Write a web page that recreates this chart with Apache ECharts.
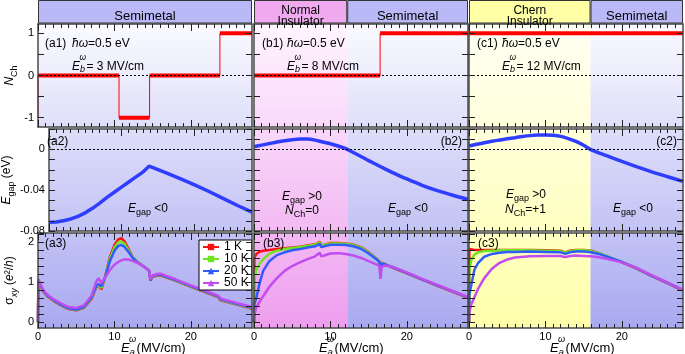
<!DOCTYPE html>
<html>
<head>
<meta charset="utf-8">
<script src="https://cdn.jsdelivr.net/npm/echarts@6/dist/echarts.min.js"></script>
<style>
html, body { margin: 0; padding: 0; background: #fff; }
#chart { width: 685px; height: 354px; }
</style>
</head>
<body>
<div id="chart"></div>
<script>
// ---- data ----
var xMax = 28;
var xMajorTicks = [0, 10, 20];
var xMinorTicks = [1, 2, 3, 4, 5, 6, 7, 8, 9, 11, 12, 13, 14, 15, 16, 17, 18, 19, 21, 22, 23, 24, 25, 26, 27];
var xTickLabels = [0, 10, 20];

var nchTicks = [-1, -0.5, 0, 0.5, 1];
var nchLabels = [-1, 0, 1];
var gapTicks = [-0.08, -0.07, -0.06, -0.05, -0.04, -0.03, -0.02, -0.01, 0, 0.01, 0.02];
var gapLabels = [-0.08, -0.04, 0];
var sigTicks = [0, 0.2, 0.4, 0.6, 0.8, 1, 1.2, 1.4, 1.6, 1.8, 2, 2.2];
var sigLabels = [0, 1, 2];

// Chern number: value held from x[i] to x[i+1]
var nchAx = [0, 0, 10.6, 14.6, 23.8, 28];
var nchAv = [-1, 0, -1, 0, 1, 1];
var nchBx = [0, 16.5, 28];
var nchBv = [0, 1, 1];
var nchCx = [0, 28];
var nchCv = [1, 1];

// phase boundaries (MV/cm)
var insulatorEndB = 12.2;
var insulatorEndC = 15.9;

// gap (eV)
var gapAx = [0, 1, 2, 3, 4, 5, 6, 7, 8, 9, 10, 11, 12, 13, 13.8, 16, 18, 20, 22, 24, 26, 28];
var gapA = [-0.0715, -0.0711, -0.0700, -0.0682, -0.0657, -0.0622, -0.0578, -0.0527, -0.047, -0.042, -0.037, -0.032, -0.027, -0.022, -0.0165, -0.0225, -0.0285, -0.0345, -0.041, -0.048, -0.055, -0.0615];
var gapBx = [0, 1, 2, 3, 4, 5, 6, 7, 8, 9, 10, 11, 12, 13, 14, 15, 16, 17, 18, 20, 22, 24, 26, 28];
var gapB = [0.0026, 0.0042, 0.0057, 0.0072, 0.0085, 0.0095, 0.0101, 0.0101, 0.0091, 0.0072, 0.0055, 0.0033, 0.0008, -0.0031, -0.007, -0.011, -0.0148, -0.0186, -0.0222, -0.029, -0.0352, -0.0405, -0.045, -0.049];
var gapCx = [0, 1, 2, 3, 4, 5, 6, 7, 8, 9, 10, 11, 12, 13, 14, 15, 16, 18, 20, 22, 24, 26, 28];
var gapC = [0.0033, 0.005, 0.0066, 0.008, 0.0092, 0.0104, 0.0115, 0.0126, 0.0135, 0.014, 0.0142, 0.0138, 0.0128, 0.0106, 0.0078, 0.0041, -0.0004, -0.0062, -0.0118, -0.0172, -0.0222, -0.0268, -0.0313];

// Hall conductivity (e^2/h) for 1 K, 10 K, 20 K, 50 K
var tempNames = ['1 K', '10 K', '20 K', '50 K'];
var sigAx = [0, 0.05, 0.3, 0.7, 1.2, 2, 3, 4, 5, 6, 7, 7.6, 7.9, 8.3, 8.8, 9.4, 10, 10.5, 10.9, 11.3, 11.8, 12.4, 13, 13.6, 14.2, 14.55, 14.7, 15, 15.6, 16, 18, 20, 22, 23.6, 23.9, 26, 28];
var sigA1 = [0, 1.05, 0.92, 0.76, 0.65, 0.54, 0.42, 0.33, 0.30, 0.36, 0.58, 0.86, 0.92, 0.82, 1.15, 1.62, 1.92, 2.06, 2.09, 2.02, 1.84, 1.62, 1.5, 1.42, 1.34, 1.28, 1.04, 1.13, 1.16, 1.17, 1.03, 0.88, 0.74, 0.62, 0.55, 0.44, 0.34];
var sigA10 = [0, 1.05, 0.93, 0.77, 0.66, 0.55, 0.43, 0.34, 0.31, 0.37, 0.6, 0.88, 0.93, 0.86, 1.15, 1.58, 1.86, 1.99, 2.01, 1.96, 1.8, 1.62, 1.5, 1.42, 1.34, 1.28, 1.05, 1.14, 1.17, 1.18, 1.04, 0.89, 0.75, 0.63, 0.56, 0.45, 0.35];
var sigA20 = [0, 1.05, 0.93, 0.78, 0.67, 0.56, 0.44, 0.35, 0.32, 0.38, 0.62, 0.9, 0.95, 0.9, 1.13, 1.52, 1.78, 1.9, 1.92, 1.88, 1.76, 1.6, 1.49, 1.42, 1.34, 1.28, 1.05, 1.15, 1.18, 1.19, 1.05, 0.9, 0.76, 0.64, 0.57, 0.46, 0.36];
var sigA50 = [0, 1.07, 0.95, 0.8, 0.69, 0.58, 0.47, 0.38, 0.36, 0.42, 0.66, 1.0, 1.1, 0.98, 1.12, 1.3, 1.43, 1.5, 1.54, 1.56, 1.56, 1.53, 1.48, 1.42, 1.34, 1.28, 1.07, 1.17, 1.2, 1.21, 1.07, 0.92, 0.78, 0.66, 0.59, 0.48, 0.38];

var sigBx = [0, 0.05, 0.3, 0.7, 1.2, 2, 3, 4, 5, 6, 7, 8, 8.6, 8.8, 9.2, 10, 11, 12, 13, 14, 15, 16, 16.4, 16.55, 16.7, 17, 18, 20, 22, 24, 26, 28];
var sigB1 = [0, 1.6, 1.7, 1.75, 1.78, 1.8, 1.82, 1.84, 1.86, 1.88, 1.91, 1.94, 2.0, 1.92, 1.93, 1.97, 1.97, 1.96, 1.93, 1.87, 1.74, 1.59, 1.52, 1.3, 1.48, 1.46, 1.37, 1.22, 1.06, 0.91, 0.76, 0.61];
var sigB10 = [0, 1.09, 1.3, 1.45, 1.57, 1.7, 1.78, 1.82, 1.85, 1.87, 1.9, 1.93, 1.99, 1.91, 1.92, 1.96, 1.96, 1.95, 1.92, 1.86, 1.73, 1.58, 1.51, 1.26, 1.47, 1.45, 1.38, 1.23, 1.07, 0.92, 0.77, 0.62];
var sigB20 = [0, 0.45, 0.6, 0.95, 1.28, 1.52, 1.67, 1.74, 1.79, 1.82, 1.86, 1.89, 1.95, 1.87, 1.89, 1.93, 1.93, 1.92, 1.89, 1.83, 1.71, 1.57, 1.5, 1.22, 1.46, 1.45, 1.38, 1.23, 1.07, 0.92, 0.77, 0.62];
var sigB50 = [0, 0.2, 0.38, 0.5, 0.65, 0.88, 1.1, 1.28, 1.4, 1.49, 1.57, 1.64, 1.73, 1.64, 1.66, 1.71, 1.72, 1.7, 1.66, 1.6, 1.52, 1.44, 1.41, 1.08, 1.38, 1.41, 1.39, 1.24, 1.08, 0.93, 0.78, 0.63];

var sigCx = [0, 0.05, 0.3, 0.7, 1.2, 2, 3, 4, 5, 6, 8, 10, 12, 12.6, 13.2, 14, 15, 16, 17, 18, 20, 22, 24, 26, 28];
var sigC1 = [0, 1.82, 1.81, 1.8, 1.8, 1.8, 1.8, 1.8, 1.8, 1.8, 1.8, 1.79, 1.78, 1.74, 1.78, 1.8, 1.8, 1.78, 1.72, 1.64, 1.49, 1.33, 1.14, 0.97, 0.79];
var sigC10 = [0, 1.3, 1.55, 1.68, 1.74, 1.77, 1.78, 1.79, 1.79, 1.79, 1.79, 1.78, 1.77, 1.73, 1.77, 1.79, 1.79, 1.77, 1.72, 1.65, 1.5, 1.34, 1.15, 0.98, 0.8];
var sigC20 = [0, 0.7, 0.93, 1.3, 1.48, 1.63, 1.7, 1.73, 1.75, 1.75, 1.76, 1.75, 1.74, 1.7, 1.74, 1.76, 1.76, 1.74, 1.7, 1.64, 1.5, 1.34, 1.15, 0.98, 0.8];
var sigC50 = [0, 0.25, 0.45, 0.62, 0.84, 1.1, 1.33, 1.48, 1.56, 1.61, 1.64, 1.65, 1.65, 1.62, 1.65, 1.66, 1.65, 1.64, 1.62, 1.58, 1.49, 1.35, 1.16, 0.99, 0.81];

// ---- layout / style ----
var FONT = '"Liberation Sans", Arial, sans-serif';
var colLeft = [38, 254, 469], colWidth = 214;
var rowTop = [24, 129, 233], rowHeight = [103, 102, 95];
var rowRange = [[-1.22, 1.22], [-0.08, 0.02], [-0.14, 2.22]];
var rowTicks = [nchTicks, gapTicks, sigTicks];
var rowLabels = [nchLabels, gapLabels, sigLabels];
var tempColors = ['#ff1010', '#6ce61e', '#2f5bff', '#c24cf0'];
var tempSymbols = ['rect', 'rect', 'triangle', 'triangle'];
var lav = ['#fafaff', '#a9a9f1'], pink = ['#fff5ff', '#ee9eee'], yel = ['#fffff4', '#ffffaa'];

var RICH = {
  i: { fontStyle: 'italic', fontSize: 12, fontFamily: FONT, lineHeight: 18, color: '#000' },
  n: { fontSize: 12, fontFamily: FONT, lineHeight: 18, color: '#000' },
  s: { fontSize: 9, fontFamily: FONT, verticalAlign: 'bottom', lineHeight: 10, color: '#000' },
  si: { fontSize: 9, fontStyle: 'italic', fontFamily: FONT, verticalAlign: 'bottom', lineHeight: 10, color: '#000' }
};

function pairs(xs, ys) {
  return xs.map(function (x, i) { return [x, ys[i]]; });
}
function mix(a, b, t) {
  var pa = parseInt(a.slice(1), 16), pb = parseInt(b.slice(1), 16), out = [];
  for (var s = 16; s >= 0; s -= 8) {
    var ca = (pa >> s) & 255, cb = (pb >> s) & 255;
    out.push(Math.round(ca + (cb - ca) * t));
  }
  return 'rgb(' + out.join(',') + ')';
}
var zoneTop = rowTop[0], zoneBottom = rowTop[2] + rowHeight[2];
function rowGrad(pal, r) {
  var t0 = (rowTop[r] - zoneTop) / (zoneBottom - zoneTop);
  var t1 = (rowTop[r] + rowHeight[r] - zoneTop) / (zoneBottom - zoneTop);
  return { type: 'linear', x: 0, y: 0, x2: 0, y2: 1,
    colorStops: [{ offset: 0, color: mix(pal[0], pal[1], t0) }, { offset: 1, color: mix(pal[0], pal[1], t1) }] };
}
var zones = [
  [[0, xMax, lav, ['Semimetal']]],
  [[0, insulatorEndB, pink, ['Normal', 'Insulator']], [insulatorEndB, xMax, lav, ['Semimetal']]],
  [[0, insulatorEndC, yel, ['Chern', 'Insulator']], [insulatorEndC, xMax, lav, ['Semimetal']]]
];
function background(c, r) {
  return { silent: true, data: zones[c].map(function (z) {
    return [{ xAxis: z[0], itemStyle: { color: rowGrad(z[2], r) } }, { xAxis: z[1] }];
  }) };
}
var zeroLine = { silent: true, symbol: ['none', 'none'], label: { show: false },
  lineStyle: { type: [2, 2], color: '#000', width: 1 }, data: [{ yAxis: 0 }] };

var yNames = ['{i|N}{s|Ch}', '{i|E}{s|gap}{n| (eV)}', '{n|σ}{si|xy}{n| (}{i|e}{n|²/}{i|h}{n|)}'];

var nchX = [nchAx, nchBx, nchCx], nchV = [nchAv, nchBv, nchCv];
var gapX = [gapAx, gapBx, gapCx], gapY = [gapA, gapB, gapC];
var sigX = [sigAx, sigBx, sigCx];
var sigY = [[sigA1, sigA10, sigA20, sigA50], [sigB1, sigB10, sigB20, sigB50], [sigC1, sigC10, sigC20, sigC50]];

var grids = [], xAxes = [], yAxes = [], series = [];
for (var r = 0; r < 3; r++) {
  for (var c = 0; c < 3; c++) {
    var g = r * 3 + c;
    grids.push({ left: colLeft[c], top: rowTop[r], width: colWidth, height: rowHeight[r] });
    [['bottom', xMajorTicks, 7, r === 2], ['bottom', xMinorTicks, 4, false],
     ['top', xMajorTicks, 7, false], ['top', xMinorTicks, 4, false]].forEach(function (d, k) {
      xAxes.push({ type: 'value', gridIndex: g, position: d[0], min: 0, max: xMax, z: 5,
        axisLine: { show: k % 2 === 0, onZero: false, lineStyle: { color: '#4a4a4a', width: 1.5 } },
        axisTick: { show: true, inside: true, length: d[2], customValues: d[1], lineStyle: { color: '#222', width: 1 } },
        axisLabel: { show: d[3], customValues: xTickLabels, margin: 3, color: '#000', fontSize: 11, fontFamily: FONT },
        splitLine: { show: false } });
    });
    ['left', 'right'].forEach(function (p, k) {
      var lab = c === 0 && k === 0;
      yAxes.push({ type: 'value', gridIndex: g, position: p, min: rowRange[r][0], max: rowRange[r][1], z: 5,
        axisLine: { show: true, onZero: false, lineStyle: { color: '#4a4a4a', width: 1.5 } },
        axisTick: { show: true, inside: true, length: 6, customValues: rowTicks[r], lineStyle: { color: '#222', width: 1 } },
        axisLabel: { show: lab, customValues: rowLabels[r], margin: 4, color: '#000', fontSize: 11, fontFamily: FONT },
        splitLine: { show: false },
        name: lab ? yNames[r] : '', nameLocation: 'middle', nameGap: 19, nameRotate: 90,
        nameTextStyle: { rich: RICH } });
    });

    var ax = { xAxisIndex: 4 * g, yAxisIndex: 2 * g, symbol: 'none', silent: true };
    if (r === 0) {
      var thick = [], xs = nchX[c], vs = nchV[c];
      for (var i = 0; i < xs.length - 1; i++) {
        if (xs[i + 1] > xs[i]) thick.push([xs[i], vs[i]], [xs[i + 1], vs[i]], [xs[i + 1], '-']);
      }
      series.push(Object.assign({ type: 'line', step: 'end', data: pairs(xs, vs),
        lineStyle: { color: '#ff0000', width: 1 }, markArea: background(c, r), markLine: zeroLine }, ax));
      series.push(Object.assign({ type: 'line', data: thick, connectNulls: false,
        lineStyle: { color: '#ff0000', width: 4, cap: 'butt' } }, ax));
    } else if (r === 1) {
      series.push(Object.assign({ type: 'line', data: pairs(gapX[c], gapY[c]), smooth: c === 0 ? false : 0.3,
        lineStyle: { color: '#2f3dff', width: 3.5 }, markArea: background(c, r), markLine: zeroLine }, ax));
    } else {
      for (var t = 0; t < 4; t++) {
        var s = Object.assign({ type: 'line', name: tempNames[t], data: pairs(sigX[c], sigY[c][t]),
          symbolSize: 5, showSymbol: false, color: tempColors[t],
          lineStyle: { color: tempColors[t], width: 2.5 } }, ax);
        s.symbol = tempSymbols[t];
        if (t === 0) s.markArea = background(c, r);
        series.push(s);
      }
    }
  }
}

var chart = echarts.init(document.getElementById('chart'));
chart.setOption({
  animation: false,
  backgroundColor: '#fff',
  textStyle: { fontFamily: FONT },
  grid: grids, xAxis: xAxes, yAxis: yAxes, series: series,
  legend: { data: tempNames, left: 199, top: 240, orient: 'vertical', backgroundColor: '#fff',
    borderColor: '#000', borderWidth: 1, borderRadius: 0, padding: [1, 3, 1, 3], itemGap: 0,
    itemWidth: 16, itemHeight: 8, textStyle: { fontSize: 12, fontFamily: FONT, color: '#000', lineHeight: 9 } }
});

// ---- text, headers ----
// the renderer puts these texts a few pixels above the asked centre, so push them down
function label(x, y, text, align) {
  return { type: 'text', x: x, y: y + 1.5, z: 50, silent: true,
    style: { text: text, rich: RICH, fill: '#000', font: '12px ' + FONT,
      align: align || 'left', verticalAlign: 'middle', textAlign: align || 'left', textVerticalAlign: 'middle' } };
}
function plain(x, y, text, size, italic, align) {
  return { type: 'text', x: x, y: y + size * 0.36, z: 50, silent: true,
    style: { text: text, fill: '#000', font: (italic ? 'italic ' : '') + size + 'px ' + FONT,
      align: align || 'left', verticalAlign: 'middle', textAlign: align || 'left', textVerticalAlign: 'middle' } };
}
// symbol with stacked subscript and superscript omega
function stacked(x, y, sub, rest, size) {
  return [plain(x, y, 'E', size, true), plain(x + size * 0.62, y - size * 0.6, 'ω', size * 0.7, true),
    plain(x + size * 0.66, y + size * 0.38, sub, size * 0.75, true), plain(x + size * 1.2, y, rest, size, false)];
}

var fieldB = ['3', '8', '12'];
var tags = ['a', 'b', 'c'];
var g2 = [];
for (var c2 = 0; c2 < 3; c2++) {
  var x0 = colLeft[c2];
  // headers
  zones[c2].forEach(function (z) {
    var p0 = chart.convertToPixel({ xAxisIndex: 4 * c2 }, z[0]);
    var p1 = chart.convertToPixel({ xAxisIndex: 4 * c2 }, z[1]);
    g2.push({ type: 'rect', z: 40, silent: true, shape: { x: p0 + 0.5, y: 0.5, width: p1 - p0 - 1, height: 22.5 },
      style: { fill: z[2] === lav ? '#b9b9f8' : (z[2] === pink ? '#efaaef' : '#ffffa6'), stroke: '#333', lineWidth: 1 } });
    if (z[3].length === 1) {
      g2.push(plain((p0 + p1) / 2, 12, z[3][0], 13, false, 'center'));
    } else {
      g2.push(plain((p0 + p1) / 2, 6.5, z[3][0], 12, false, 'center'));
      g2.push(plain((p0 + p1) / 2, 17.5, z[3][1], 12, false, 'center'));
    }
  });
  var lx = c2 === 0 ? 45 : (c2 === 1 ? 262 : 477);
  var hx = c2 === 0 ? 72 : (c2 === 1 ? 287 : 502);
  g2.push(label(lx, 42, '(' + tags[c2] + '1)'));
  g2.push(label(hx, 42, '{i|ħω}{n|=0.5 eV}'));
  g2 = g2.concat(stacked(hx, 62, 'b', '= ' + fieldB[c2] + ' MV/cm', 12));
  // row 2 / row 3 tags
  if (c2 === 0) g2.push(label(47, 140, '(a2)'));
  else g2.push(label(x0 + colWidth - 6, 140, '(' + tags[c2] + '2)', 'right'));
  g2.push(label(c2 === 0 ? 45 : x0 + 9, 242, '(' + tags[c2] + '3)'));
  // x axis title
  var tx = c2 === 0 ? 121 : (c2 === 1 ? 319 : 550);
  g2 = g2.concat(stacked(tx, 344, 'a', '(MV/cm)', 13));
}
g2.push(label(128, 207, '{i|E}{s|gap}{n| <0}'));
g2.push(label(282, 195, '{i|E}{s|gap}{n| >0}'));
g2.push(label(285, 209, '{i|N}{s|Ch}{n|=0}'));
g2.push(label(388, 207, '{i|E}{s|gap}{n| <0}'));
g2.push(label(506, 193, '{i|E}{s|gap}{n| >0}'));
g2.push(label(505, 208, '{i|N}{s|Ch}{n|=+1}'));
g2.push(label(613, 207, '{i|E}{s|gap}{n| <0}'));

chart.setOption({ graphic: g2 });
</script>
</body>
</html>
